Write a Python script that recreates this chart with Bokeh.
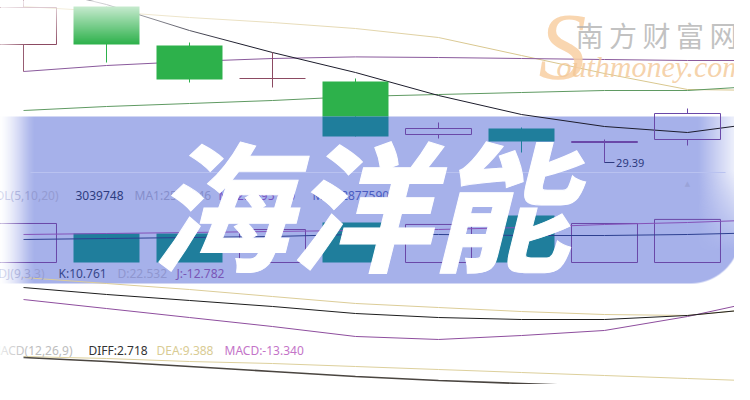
import numpy as np
from bokeh.plotting import figure
from bokeh.models import Range1d, ColumnDataSource
from bokeh.core.properties import value
from bokeh.embed import file_html
from bokeh.resources import INLINE

# ---------------- data ----------------
days = list(range(10))
open_ = [35.29, 37.19, 35.24, 33.59, 33.44, 30.79, 31.09, 30.39, 30.54, 31.89]
high = [37.60, 37.19, 35.39, 34.89, 33.59, 31.39, 31.14, 30.54, 32.09, 33.89]
low = [33.94, 34.39, 33.39, 33.14, 30.69, 30.59, 29.89, 29.39, 30.24, 31.60]
close = [37.14, 35.29, 33.54, 33.59, 30.69, 31.09, 30.44, 30.44, 31.84, 33.59]

ma5 = [38.29, 37.29, 35.99, 34.89, 33.89, 32.74, 31.79, 31.19, 30.89, 31.44]
ma10 = [37.19, 36.94, 36.64, 36.39, 36.09, 35.64, 34.74, 33.84, 33.04, 32.99]
ma20 = [33.94, 34.24, 34.44, 34.59, 34.67, 34.64, 34.59, 34.54, 34.49, 34.49]
ma30 = [31.99, 32.19, 32.34, 32.49, 32.69, 32.79, 32.89, 32.99, 32.99, 33.24]

volume = [2010000, 1494000, 1494000, 1700000, 2060000, 1960000, 2420000, 2010000, 2220000, 3039748]
vol_ma5 = [1185000, 1236500, 1288000, 1339500, 1442600, 1442600, 1391000, 1391000, 1442600, 1545600]
vol_ma10 = [1442600, 1494100, 1545600, 1597200, 1648700, 1700200, 1803200, 1957800, 2060800, 2215400]

k_line = [93.3, 81.7, 71.7, 61.7, 50.0, 43.3, 40.0, 40.0, 46.7, 60.0]
d_line = [110.0, 100.0, 90.0, 78.3, 66.7, 60.0, 53.3, 48.3, 46.7, 60.0]
j_line = [73.3, 58.3, 43.3, 28.3, 11.7, 6.7, 13.3, 21.7, 45.0, 75.0]

diff_line = [7.5, 5.5, 3.0, 0.5, -2.0, -4.0, -5.5, -7.0, -8.5, -9.5]
dea_line = [8.0, 7.0, 5.5, 4.5, 3.0, 1.5, 0.0, -1.5, -3.0, -4.5]

vol_labels = ["VOL(5,10,20)", "3039748", "MA1:2568146", "MA2:2695170", "MA3:2877590"]
kdj_labels = ["KDJ(9,3,3)", "K:10.761", "D:22.532", "J:-12.782"]
macd_labels = ["MACD(12,26,9)", "DIFF:2.718", "DEA:9.388", "MACD:-13.340"]
title = "海洋能"
brand_cn = ["南", "方", "财", "富", "网"]
brand_en = "outhmoney.com"

# ---------------- layout / style ----------------
PW, PH = 734, 384
PRICE_RANGE = (37.49 - PH / 20, 37.49)
VOL_RANGE = ((262 - PH) * 51521, 262 * 51521)
KDJ_RANGE = ((343 - PH) / 0.6, 343 / 0.6)
MACD_RANGE = ((372 - PH) / 2, 372 / 2)


def Y(py):
    return 400 - py


p = figure(width=PW, height=PH, x_range=Range1d(0, PW), y_range=Range1d(400 - PH, 400),
           x_axis_type=None, y_axis_type=None, output_backend="svg", toolbar_location=None,
           min_border=0, outline_line_color=None, background_fill_color="white",
           border_fill_color="white")
p.grid.visible = False
p.extra_x_ranges = {"d": Range1d(-23 / 83, (PW - 23) / 83)}
p.extra_y_ranges = {"price": Range1d(*PRICE_RANGE), "vol": Range1d(*VOL_RANGE),
                    "kdj": Range1d(*KDJ_RANGE), "macd": Range1d(*MACD_RANGE)}


def rgba_image(alpha, rgb):
    h, w = alpha.shape
    img = np.zeros((h, w), dtype=np.uint32)
    v = img.view(dtype=np.uint8).reshape((h, w, 4))
    v[..., 0], v[..., 1], v[..., 2] = rgb
    v[..., 3] = np.clip(alpha * 255, 0, 255).astype(np.uint8)
    return np.flipud(img)


# ---- banner ----
B0, B1 = 116, 283
xs = np.arange(0, PW) + 0.5
ys = np.arange(B0, B1) + 0.5
XX, YY = np.meshgrid(xs, ys)
al = np.clip(740.5 - XX, 0, 1) * np.clip(XX / 34, 0, 1) ** 0.8
cx, cy, rr = 690.0, 233.0, 50.0
dist = np.hypot(XX - cx, YY - cy)
corner = (XX > cx) & (YY > cy)
al = np.where(corner, al * np.clip(rr + 0.5 - dist, 0, 1), al)
fade = np.clip((XX - 698) / 45, 0, 1) * np.clip((250 - YY) / 80, 0, 1)
al = al * (1 - fade)
p.image_rgba(image=[rgba_image(al, (166, 177, 234))], x=0, y=Y(B1), dw=PW, dh=B1 - B0)
p.segment(x0=[30], x1=[725], y0=[Y(172)], y1=[Y(172)], line_color="#b9c2f0", line_width=1)

# ---- price MA lines ----
for series, col in [(ma10, "#d9c78f"), (ma30, "#5f9a62"), (ma20, "#8a5a9c"), (ma5, "#1c1c2c")]:
    p.line(days, series, x_range_name="d", y_range_name="price", line_color=col, line_width=1)

# ---- candles ----
bp = PRICE_RANGE[1] - B0 / 20
W = 0.795
GREEN, TEAL = "#2db14b", "#1f7e9c"
UP_OUT, UP_IN, LAST = "#8c4a62", "#6a48a8", "#cfd0da"


def split(lo, hi):
    parts = []
    if hi > bp:
        parts.append((max(lo, bp), hi, False))
    if lo < bp:
        parts.append((lo, min(hi, bp), True))
    return parts


fq = dict(l=[], r=[], t=[], b=[], c=[])
hq = dict(l=[], r=[], t=[], b=[], c=[])
sg = dict(x0=[], x1=[], y0=[], y1=[], c=[])
last = len(days) - 1
for i in days:
    o, h, lo_, c = open_[i], high[i], low[i], close[i]
    top, bot = max(o, c), min(o, c)
    if c < o:
        for a, b, ins in split(bot, top):
            fq["l"].append(i - W / 2); fq["r"].append(i + W / 2)
            fq["b"].append(a); fq["t"].append(b); fq["c"].append(TEAL if ins else GREEN)
        for a, b, ins in split(lo_, h):
            sg["x0"].append(i); sg["x1"].append(i); sg["y0"].append(a); sg["y1"].append(b)
            sg["c"].append(TEAL if ins else GREEN)
    else:
        col = LAST if i == last else (UP_OUT if (top + bot) / 2 > bp else UP_IN)
        if top > bot:
            hq["l"].append(i - W / 2); hq["r"].append(i + W / 2)
            hq["b"].append(bot); hq["t"].append(top); hq["c"].append(col)
        else:
            sg["x0"].append(i - W / 2); sg["x1"].append(i + W / 2)
            sg["y0"].append(o); sg["y1"].append(o); sg["c"].append(col)
        for a, b in [(top, h), (lo_, bot)]:
            if b > a:
                sg["x0"].append(i); sg["x1"].append(i); sg["y0"].append(a); sg["y1"].append(b)
                sg["c"].append(col)

p.segment("x0", "y0", "x1", "y1", source=ColumnDataSource(sg), line_color="c", line_width=1,
          x_range_name="d", y_range_name="price")
p.quad(left="l", right="r", top="t", bottom="b", source=ColumnDataSource(fq), fill_color="c",
       line_color=None, x_range_name="d", y_range_name="price")
p.quad(left="l", right="r", top="t", bottom="b", source=ColumnDataSource(hq), fill_alpha=0,
       line_color="c", line_width=1, x_range_name="d", y_range_name="price")

# low marker
p.segment(x0=[7], x1=[7.12], y0=[low[7]], y1=[low[7]], line_color="#2d3a80", line_width=1,
          x_range_name="d", y_range_name="price")
p.text(x=[7.14], y=[low[7]], text=[f"{low[7]:.2f}"], x_range_name="d", y_range_name="price",
       text_font=value("Noto Sans"), text_font_size="11px", text_color="#2d3a80",
       text_baseline="middle")
p.text(x=[8], y=[Y(183)], x_range_name="d", text=["▲"], text_font=value("DejaVu Sans"),
       text_font_size="7px", text_color="#9aa3d8", text_align="center", text_baseline="middle")

# ---- volume ----
vf = dict(l=[], r=[], t=[], b=[])
vh = dict(l=[], r=[], t=[], b=[], c=[])
for i in days:
    if close[i] < open_[i]:
        vf["l"].append(i - W / 2); vf["r"].append(i + W / 2); vf["t"].append(volume[i]); vf["b"].append(0)
    else:
        vh["l"].append(i - W / 2); vh["r"].append(i + W / 2); vh["t"].append(volume[i]); vh["b"].append(0)
        vh["c"].append(LAST if i == last else UP_IN)
p.quad(left="l", right="r", top="t", bottom="b", source=ColumnDataSource(vf), fill_color=TEAL,
       line_color=None, x_range_name="d", y_range_name="vol")
p.quad(left="l", right="r", top="t", bottom="b", source=ColumnDataSource(vh), fill_alpha=0,
       line_color="c", line_width=1, x_range_name="d", y_range_name="vol")
p.line(days, vol_ma10, x_range_name="d", y_range_name="vol", line_color="#8452b8", line_width=1)
p.line(days, vol_ma5, x_range_name="d", y_range_name="vol", line_color="#2d4090", line_width=1)

# ---- KDJ ----
p.line(days, d_line, x_range_name="d", y_range_name="kdj", line_color="#dccd98", line_width=1)
p.line(days, j_line, x_range_name="d", y_range_name="kdj", line_color="#8e4e9e", line_width=1)
p.line(days, k_line, x_range_name="d", y_range_name="kdj", line_color="#1e1e1e", line_width=1)

# ---- MACD ----
p.line(days, dea_line, x_range_name="d", y_range_name="macd", line_color="#ddd09c", line_width=1)
p.line(days, diff_line, x_range_name="d", y_range_name="macd", line_color="#4a4540", line_width=1.6)


# ---- indicator labels ----
def label(x, py, s, col, align="left", size=12):
    p.text(x=[x], y=[Y(py)], text=[s], text_font=value("Noto Sans"),
           text_font_size=f"{size}px", text_color=col, text_align=align,
           text_baseline="middle")


label(58, 195, vol_labels[0], "#949bd2", "right")
label(75, 195, vol_labels[1], "#2d3c80")
label(134, 195, vol_labels[2], "#858ecb")
label(218, 195, vol_labels[3], "#7650c0")
label(312, 195, vol_labels[4], "#4a5cc0")

label(44, 273, kdj_labels[0], "#979ed3", "right")
label(58, 273, kdj_labels[1], "#38478a")
label(117, 273, kdj_labels[2], "#8f96cf")
label(176, 273, kdj_labels[3], "#7a56b6")

label(72, 350, macd_labels[0], "#bdbdbd", "right")
label(88, 350, macd_labels[1], "#333333")
label(156, 350, macd_labels[2], "#d9cc94")
label(224, 350, macd_labels[3], "#c474c8")

# ---- white fades ----
lx = np.arange(0, 34) + 0.5
left_a = np.tile(0.7 * np.clip(1 - lx / 30, 0, 1) ** 1.3, (PH, 1))
p.image_rgba(image=[rgba_image(left_a, (255, 255, 255))], x=0, y=400 - PH, dw=34, dh=PH)
ty = np.arange(0, 44) + 0.5
top_a = np.tile((0.85 * (1 - ty / 44))[:, None], (1, PW))
p.image_rgba(image=[rgba_image(top_a, (255, 255, 255))], x=0, y=Y(44), dw=PW, dh=44)

# ---- title ----
p.text(x=[360], y=[Y(199)], text=[title], text_font=value("Noto Sans CJK SC"),
       text_font_size="140px", text_font_style="bold italic", text_color="white",
       text_outline_color="white", text_align="center", text_baseline="middle")

# ---- watermark ----
p.text(x=[562], y=[Y(46)], text=["S"], text_font=value("Liberation Serif"),
       text_font_size="96px", text_font_style="italic", text_color="#f8cfa2",
       text_alpha=0.85, text_align="center", text_baseline="middle")
p.text(x=[556], y=[Y(66)], text=[brand_en], text_font=value("Liberation Serif"),
       text_font_size="30px", text_font_style="italic", text_color="#f3c796",
       text_alpha=0.8, text_baseline="alphabetic")
p.text(x=[589 + 33.5 * k for k in range(len(brand_cn))], y=[Y(34)] * len(brand_cn), text=brand_cn,
       text_font=value("Noto Sans CJK SC"), text_font_size="28px",
       text_color="#b2b2b2", text_alpha=0.8, text_align="center", text_baseline="middle")

open("out.html", "w").write(file_html(p, INLINE))
